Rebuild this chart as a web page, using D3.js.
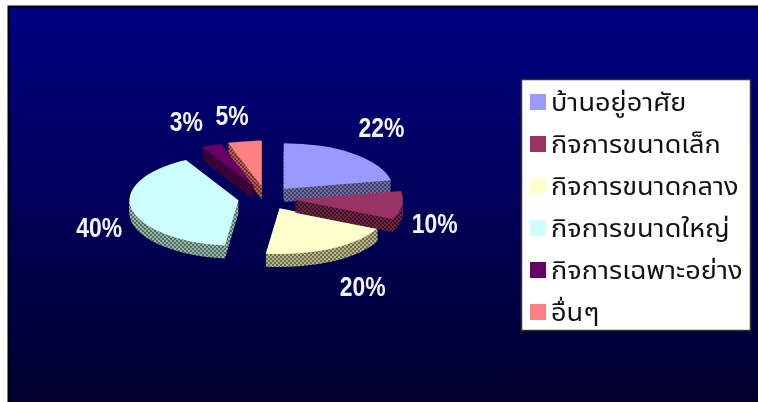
<!DOCTYPE html>
<html>
<head>
<meta charset="utf-8">
<script src="https://d3js.org/d3.v7.min.js"></script>
<style>
html, body { margin: 0; padding: 0; background: #fff; overflow: hidden; }
svg { display: block; filter: blur(0.45px); }
</style>
</head>
<body>
<div id="chart"></div>
<script>
var categories = ["บ้านอยู่อาศัย", "กิจการขนาดเล็ก", "กิจการขนาดกลาง", "กิจการขนาดใหญ่", "กิจการเฉพาะอย่าง", "อื่นๆ"];
var values = [22, 10, 20, 40, 3, 5];
var colors = ["#9999ff", "#993366", "#ffffcc", "#ccffff", "#660066", "#ff8080"];

var WIDTH = 758, HEIGHT = 402;
var CX = 266, CY = 198;      // pie centre
var RX = 109, TILT = 0.42;   // radius and squash
var EXPLODE = 28, DEPTH = 13;
var LABEL_RX = 178, LABEL_RY = 90;
var labelNudge = [[2, 1], [-8, 17], [11, 12], [8, 15], [-9, 8], [-6, 9]];
var drawOrder = [5, 4, 0, 3, 2, 1];

var svg = d3.select("#chart").append("svg")
    .attr("width", WIDTH)
    .attr("height", HEIGHT);

var defs = svg.append("defs");

var grad = defs.append("linearGradient")
    .attr("id", "bg")
    .attr("x1", 0).attr("y1", 0).attr("x2", 0).attr("y2", 1);
grad.append("stop").attr("offset", "0%").attr("stop-color", "#000088");
grad.append("stop").attr("offset", "100%").attr("stop-color", "#000030");

var dither = defs.append("pattern")
    .attr("id", "dither")
    .attr("width", 8).attr("height", 8)
    .attr("patternUnits", "userSpaceOnUse");
dither.append("circle").attr("cx", 2).attr("cy", 2).attr("r", 1.6).attr("fill", "#000").attr("opacity", 0.18);
dither.append("circle").attr("cx", 6).attr("cy", 6).attr("r", 1.6).attr("fill", "#000").attr("opacity", 0.18);

// checkered fill for the pie sides
colors.forEach(function(c, i) {
    var base = d3.rgb(c);
    var dark = d3.rgb(base.r * 0.42, base.g * 0.42, base.b * 0.42);
    var p = defs.append("pattern")
        .attr("id", "side" + i)
        .attr("width", 4).attr("height", 4)
        .attr("patternUnits", "userSpaceOnUse");
    p.append("rect").attr("width", 4).attr("height", 4)
        .attr("fill", d3.rgb(base.r * 0.72, base.g * 0.72, base.b * 0.62));
    p.append("rect").attr("width", 2).attr("height", 2).attr("fill", dark);
    p.append("rect").attr("x", 2).attr("y", 2).attr("width", 2).attr("height", 2).attr("fill", dark);
});

// background panel
svg.append("rect")
    .attr("x", 8).attr("y", 6)
    .attr("width", WIDTH - 8).attr("height", HEIGHT - 6)
    .attr("fill", "url(#bg)");
svg.append("rect")
    .attr("x", 8).attr("y", 6)
    .attr("width", WIDTH - 8).attr("height", HEIGHT - 6)
    .attr("fill", "url(#dither)");
svg.append("path")
    .attr("d", d3.line()([[8.5, HEIGHT], [8.5, 6.5], [WIDTH, 6.5]]))
    .attr("fill", "none")
    .attr("stroke", "#000")
    .attr("stroke-width", 2);

// pie
var pie = d3.pie().sort(null);
var slices = pie(values);
var arc = d3.arc().innerRadius(0).outerRadius(RX);

function midAngle(d) { return (d.startAngle + d.endAngle) / 2; }
function sliceX(d) { return CX + EXPLODE * Math.sin(midAngle(d)); }
function sliceY(d) { return CY - EXPLODE * TILT * Math.cos(midAngle(d)); }

var depths = d3.range(DEPTH, 0, -1);
var pieG = svg.append("g");

drawOrder.forEach(function(i) {
    var d = slices[i];
    var g = pieG.append("g").attr("class", "slice");

    // side wall: stacked copies used as a mask so the checker stays in screen pixels
    var mask = defs.append("mask")
        .attr("id", "sideMask" + i)
        .attr("maskUnits", "userSpaceOnUse")
        .attr("x", 0).attr("y", 0)
        .attr("width", WIDTH).attr("height", HEIGHT);
    mask.selectAll("path")
        .data(depths)
        .enter().append("path")
        .attr("d", arc(d))
        .attr("transform", function(k) {
            return "translate(" + sliceX(d) + "," + (sliceY(d) + k) + ") scale(1," + TILT + ")";
        })
        .attr("fill", "#fff");
    g.append("rect")
        .attr("width", WIDTH).attr("height", HEIGHT)
        .attr("fill", "url(#side" + i + ")")
        .attr("mask", "url(#sideMask" + i + ")");

    g.append("path")
        .attr("class", "top")
        .attr("d", arc(d))
        .attr("transform", "translate(" + sliceX(d) + "," + sliceY(d) + ") scale(1," + TILT + ")")
        .attr("fill", colors[i]);
});

// percent labels
svg.append("g").selectAll("text")
    .data(slices)
    .enter().append("text")
    .attr("transform", function(d, i) {
        var x = CX + LABEL_RX * Math.sin(midAngle(d)) + labelNudge[i][0];
        var y = CY - LABEL_RY * Math.cos(midAngle(d)) + labelNudge[i][1];
        return "translate(" + x + "," + y + ") scale(0.85,1)";
    })
    .attr("text-anchor", "middle")
    .attr("dominant-baseline", "middle")
    .attr("font-family", "'Liberation Sans', sans-serif")
    .attr("font-weight", "bold")
    .attr("font-size", 27)
    .attr("fill", "#f4f4ff")
    .text(function(d) { return d.value + "%"; });

// legend
var legend = svg.append("g");
legend.append("rect")
    .attr("x", 521.5).attr("y", 79.5)
    .attr("width", 229).attr("height", 251)
    .attr("fill", "#fff")
    .attr("stroke", "#333")
    .attr("stroke-width", 1.5);

var rowY = d3.scalePoint().domain(d3.range(categories.length)).range([102, 312]);

var rows = legend.selectAll("g.row")
    .data(categories)
    .enter().append("g")
    .attr("class", "row")
    .attr("transform", function(d, i) { return "translate(530," + rowY(i) + ")"; });

rows.append("rect")
    .attr("y", -8).attr("width", 16).attr("height", 16)
    .attr("fill", function(d, i) { return colors[i]; });

rows.append("text")
    .attr("transform", "translate(21,9) scale(1.13,1)")
    .attr("font-family", "'Noto Sans Thai', 'Noto Sans', 'DejaVu Sans', sans-serif")
    .attr("font-size", 24)
    .attr("fill", "#111")
    .text(function(d) { return d; });
</script>
</body>
</html>
